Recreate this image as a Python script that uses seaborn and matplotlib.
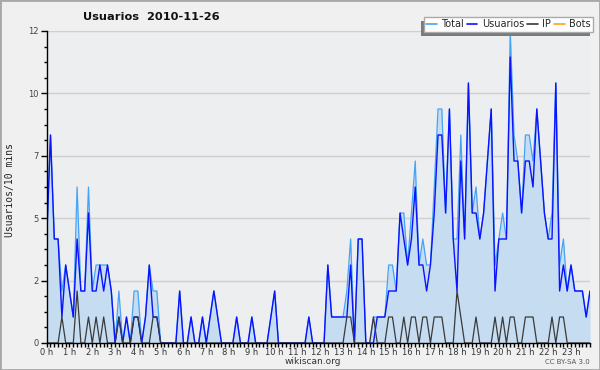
import numpy as np
import pandas as pd
import matplotlib
matplotlib.use('Agg')
import matplotlib.pyplot as plt
from matplotlib.lines import Line2D
from matplotlib.patches import Rectangle
from matplotlib.transforms import IdentityTransform
import seaborn as sns

# ---- data: 144 ten-minute slots of 2010-11-26 ----
hour_labels = [f"{h} h" for h in range(24)]
y_tick_labels = ['0', '2', '5', '7', '10', '12']

total = [
    4, 8, 4, 4, 2, 3, 2, 1, 6, 2, 2, 6,
    2, 3, 3, 3, 3, 2, 0, 2, 0, 1, 0, 2,
    2, 0, 1, 3, 2, 2, 0, 0, 0, 0, 0, 2,
    0, 0, 1, 0, 0, 1, 0, 1, 2, 1, 0, 0,
    0, 0, 1, 0, 0, 0, 1, 0, 0, 0, 0, 1,
    2, 0, 0, 0, 0, 0, 0, 0, 0, 1, 0, 0,
    0, 0, 3, 1, 1, 1, 1, 2, 4, 0, 4, 4,
    0, 0, 1, 1, 1, 1, 3, 3, 2, 5, 5, 3,
    5, 7, 3, 4, 3, 3, 6, 9, 9, 5, 9, 4,
    4, 8, 4, 10, 5, 6, 4, 5, 7, 9, 3, 4,
    5, 4, 12, 8, 7, 5, 8, 8, 7, 9, 7, 5,
    4, 5, 10, 3, 4, 2, 3, 2, 2, 2, 1, 2,
]
usuarios = [
    4, 8, 4, 4, 1, 3, 2, 1, 4, 2, 2, 5,
    2, 2, 3, 2, 3, 2, 0, 1, 0, 1, 0, 1,
    1, 0, 1, 3, 1, 1, 0, 0, 0, 0, 0, 2,
    0, 0, 1, 0, 0, 1, 0, 1, 2, 1, 0, 0,
    0, 0, 1, 0, 0, 0, 1, 0, 0, 0, 0, 1,
    2, 0, 0, 0, 0, 0, 0, 0, 0, 1, 0, 0,
    0, 0, 3, 1, 1, 1, 1, 1, 3, 0, 4, 4,
    0, 0, 0, 1, 1, 1, 2, 2, 2, 5, 4, 3,
    4, 6, 3, 3, 2, 3, 5, 8, 8, 5, 9, 4,
    2, 7, 4, 10, 5, 5, 4, 5, 7, 9, 2, 4,
    4, 4, 11, 7, 7, 5, 7, 7, 6, 9, 7, 5,
    4, 4, 10, 2, 3, 2, 3, 2, 2, 2, 1, 2,
]
ip = [
    0, 0, 0, 0, 1, 0, 0, 0, 2, 0, 0, 1,
    0, 1, 0, 1, 0, 0, 0, 1, 0, 0, 0, 1,
    1, 0, 0, 0, 1, 1, 0, 0, 0, 0, 0, 0,
    0, 0, 0, 0, 0, 0, 0, 0, 0, 0, 0, 0,
    0, 0, 0, 0, 0, 0, 0, 0, 0, 0, 0, 0,
    0, 0, 0, 0, 0, 0, 0, 0, 0, 0, 0, 0,
    0, 0, 0, 0, 0, 0, 0, 1, 1, 0, 0, 0,
    0, 0, 1, 0, 0, 0, 1, 1, 0, 0, 1, 0,
    1, 1, 0, 1, 1, 0, 1, 1, 1, 0, 0, 0,
    2, 1, 0, 0, 0, 1, 0, 0, 0, 0, 1, 0,
    1, 0, 1, 1, 0, 0, 1, 1, 1, 0, 0, 0,
    0, 1, 0, 1, 1, 0, 0, 0, 0, 0, 0, 0,
]
bots = [
    0, 0, 0, 0, 0, 0, 0, 0, 0, 0, 0, 0,
    0, 0, 0, 0, 0, 0, 0, 0, 0, 0, 0, 0,
    0, 0, 0, 0, 0, 0, 0, 0, 0, 0, 0, 0,
    0, 0, 0, 0, 0, 0, 0, 0, 0, 0, 0, 0,
    0, 0, 0, 0, 0, 0, 0, 0, 0, 0, 0, 0,
    0, 0, 0, 0, 0, 0, 0, 0, 0, 0, 0, 0,
    0, 0, 0, 0, 0, 0, 0, 0, 0, 0, 0, 0,
    0, 0, 0, 0, 0, 0, 0, 0, 0, 0, 0, 0,
    0, 0, 0, 0, 0, 0, 0, 0, 0, 0, 0, 0,
    0, 0, 0, 0, 0, 0, 0, 0, 0, 0, 0, 0,
    0, 0, 0, 0, 0, 0, 0, 0, 0, 0, 0, 0,
    0, 0, 0, 0, 0, 0, 0, 0, 0, 0, 0, 0,
]

slot = np.arange(len(total))
df = pd.DataFrame({'slot': slot, 'Total': total, 'Usuarios': usuarios,
                   'IP': ip, 'Bots': bots})

sns.set_style('white')
plt.rcParams['font.family'] = ['DejaVu Sans']

C_TOTAL = '#44a4f6'
C_FILL = '#c6dcf0'
C_USER = '#0a12ff'
C_IP = '#3a3a3a'
C_BOTS = '#ffa020'

fig = plt.figure(figsize=(6, 3.7), dpi=100)
fig.patch.set_facecolor('#f0f0f0')
ax = fig.add_axes([46.7 / 600, 27 / 370, (590 - 46.7) / 600, (343 - 31) / 370])
ax.set_facecolor('#edeef0')

ax.fill_between(df['slot'], df['Total'], 0, color=C_FILL, linewidth=0, zorder=1)
sns.lineplot(data=df, x='slot', y='Bots', ax=ax, color=C_BOTS, lw=1, zorder=0.5)
sns.lineplot(data=df, x='slot', y='Total', ax=ax, color=C_TOTAL, lw=0.9, zorder=2)
sns.lineplot(data=df, x='slot', y='Usuarios', ax=ax, color=C_USER, lw=1.0, zorder=3)
sns.lineplot(data=df, x='slot', y='IP', ax=ax, color=C_IP, lw=0.9, zorder=4)

ax.set_xlim(0, len(total) - 1)
ax.set_xticks(np.arange(0, len(total), 6))
ax.set_xticklabels(hour_labels)
ax.set_xticks(np.arange(0, len(total)), minor=True)
ax.set_ylim(0, 12)
ax.set_yticks([0, 2.4, 4.8, 7.2, 9.6, 12])
ax.set_yticklabels(y_tick_labels)
ax.set_yticks(np.arange(0, 12.01, 0.6), minor=True)
ax.set_xlabel('')
ax.set_ylabel('')

ax.yaxis.grid(True, which='major', color='#cfcfcf', lw=1)
ax.xaxis.grid(False)
ax.set_axisbelow(True)
for s in ['top', 'right']:
    ax.spines[s].set_visible(False)
for s in ['left', 'bottom']:
    ax.spines[s].set_color('black')
    ax.spines[s].set_linewidth(1)
    ax.spines[s].set_zorder(5)

ax.tick_params(axis='y', which='major', length=4.5, width=1, color='black',
               labelsize=6, labelcolor='#444444', pad=1, left=True)
ax.tick_params(axis='y', which='minor', length=2.2, width=1, color='black', left=True)
ax.tick_params(axis='x', which='both', length=2.8, width=1, color='black',
               labelsize=6, labelcolor='#333333', pad=1, bottom=True)

fig.text(10 / 600, 1 - 190 / 370, 'Usuarios/10 mins', rotation=90,
         ha='center', va='center', fontsize=7, family='DejaVu Sans Mono', color='#222222')
fig.text(151 / 600, 1 - 17 / 370, 'Usuarios  2010-11-26', ha='center', va='center',
         fontsize=8.2, fontweight='bold', color='#111111')
fig.text(313 / 600, 1 - 362 / 370, 'wikiscan.org', ha='center', va='center',
         fontsize=6.5, color='#333333')
fig.text(590 / 600, 1 - 362 / 370, 'CC BY-SA 3.0', ha='right', va='center',
         fontsize=5, color='#555555')

handles = [Line2D([], [], color=c, lw=1.2) for c in (C_TOTAL, C_USER, C_IP, C_BOTS)]
leg = fig.legend(handles, ['Total', 'Usuarios', 'IP', 'Bots'], loc='upper right',
                 bbox_to_anchor=(593 / 600, 1 - 17 / 370), ncol=4, fontsize=7,
                 frameon=True, fancybox=False, handlelength=1.1, handletextpad=0.45,
                 columnspacing=0.3, borderpad=0.25, borderaxespad=0)
leg.get_frame().set_edgecolor('#aaaaaa')
leg.get_frame().set_facecolor('white')
leg.get_frame().set_linewidth(1)
leg.get_frame().set_alpha(1)
leg.set_zorder(10)

fig.canvas.draw()
bb = leg.get_window_extent()
fig.add_artist(Rectangle((bb.x0 - 3, bb.y0 - 4), bb.width, bb.height,
                         transform=IdentityTransform(), facecolor='#7a7a7a',
                         edgecolor='none', zorder=9))

fig.add_artist(Rectangle((0, 0), 1, 1, transform=fig.transFigure, fill=False,
                         edgecolor='#a8a8a8', lw=2, zorder=20))

fig.savefig('out.png', dpi=100, facecolor=fig.get_facecolor())
